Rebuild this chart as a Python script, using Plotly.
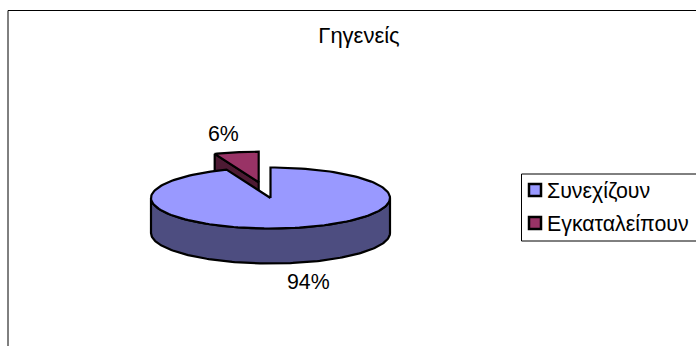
import numpy as np
import plotly.graph_objects as go

categories = ["Συνεχίζουν", "Εγκαταλείπουν"]
shares = [94, 6]
title_text = "Γηγενείς"

FONT = "Liberation Sans, Arial, sans-serif"
FS = 21.33
W, H = 696, 346
cx, cy, rx, ry, depth, pull = 270.5, 198.0, 119.5, 30.5, 35.0, 63.0
top_colors = ["#9999FF", "#993366"]
side_colors = ["#4D4D80", "#4D1A33"]
legend_x, legend_text_x, legend_rows = 535.0, 547.5, [190.0, 223.0]


def rim(a0, a1, ox=0.0, oy=0.0, n=160):
    t = np.radians(np.linspace(a0, a1, n))
    return ox + cx + rx * np.sin(t), oy + cy - ry * np.cos(t)


fractions = np.array(shares) / sum(shares)
a_main = 360 * fractions[0]
mid = np.radians((a_main + 360) / 2)
ox, oy = pull * np.sin(mid), -pull * (ry / rx) * np.cos(mid)

fig = go.Figure()


def poly(x, y, color):
    fig.add_trace(go.Scatter(x=list(x), y=list(y), mode="lines", fill="toself",
                             fillcolor=color, line=dict(color="black", width=2.2),
                             showlegend=False, hoverinfo="skip"))


# exploded slice: side cut face, then top
sx, sy = rim(a_main, a_main, ox, oy, 1)
ax, ay = cx + ox, cy + oy
poly([sx[0], ax, ax, sx[0], sx[0]], [sy[0], ay, ay + depth, sy[0] + depth, sy[0]], side_colors[1])
x, y = rim(a_main, 360, ox, oy, 40)
poly(np.r_[ax, x, ax], np.r_[ay, y, ay], top_colors[1])

# main slice: outer wall, then top
x, y = rim(90, 270)
poly(np.r_[x, x[::-1], x[0]], np.r_[y, y[::-1] + depth, y[0]], side_colors[0])
x, y = rim(0, a_main)
poly(np.r_[cx, x, cx], np.r_[cy, y, cy], top_colors[0])

# legend entries
legend_notes = []
for name, color, row in zip(categories, top_colors, legend_rows):
    fig.add_trace(go.Scatter(x=[legend_x], y=[row], name=name, mode="markers",
                             marker=dict(symbol="square", size=12, color=color,
                                         line=dict(color="black", width=2.5)),
                             showlegend=False, hoverinfo="skip", cliponaxis=False))
    legend_notes.append(dict(x=legend_text_x, y=row + 1, xref="x", yref="y", text=name,
                             xanchor="left", xshift=-3, showarrow=False,
                             font=dict(family=FONT, size=FS, color="black")))

fig.update_layout(
    width=W, height=H, margin=dict(l=0, r=0, t=0, b=0, autoexpand=False),
    paper_bgcolor="white", plot_bgcolor="white",
    xaxis=dict(range=[0, W], visible=False, fixedrange=True),
    yaxis=dict(range=[H, 0], visible=False, fixedrange=True),
    title=dict(text=title_text, x=359 / W, xanchor="center", y=1 - 35 / H, yanchor="middle",
               font=dict(family=FONT, size=22, color="black")),
    shapes=[
        dict(type="rect", xref="x", yref="y", x0=8, y0=10.5, x1=720, y1=370,
             line=dict(color="black", width=1), layer="below"),
        dict(type="rect", xref="x", yref="y", x0=521.5, y0=174, x1=720, y1=241,
             line=dict(color="black", width=1), layer="below"),
    ],
    annotations=[
        dict(x=cx + ox - 35, y=cy + oy - 48, xref="x", yref="y", text=f"{shares[1]}%",
             showarrow=False, font=dict(family=FONT, size=FS, color="black")),
        dict(x=cx + 38, y=cy + ry + depth + 18, xref="x", yref="y", text=f"{shares[0]}%",
             showarrow=False, font=dict(family=FONT, size=FS, color="black")),
    ] + legend_notes,
)
fig.write_html("out.html", config=dict(displayModeBar=False),
               post_script="document.body.style.margin='0';document.documentElement.style.overflow='hidden';")
